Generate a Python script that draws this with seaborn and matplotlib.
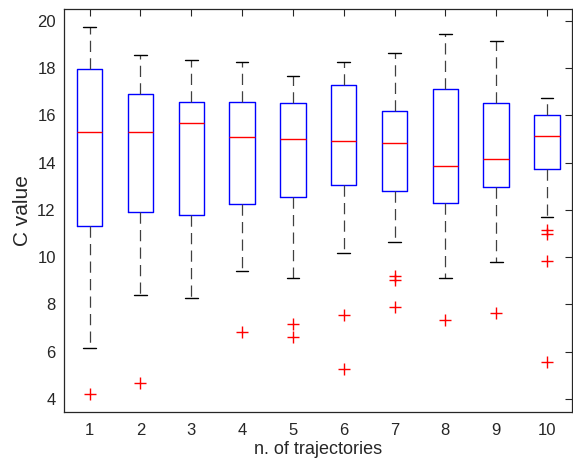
import numpy as np
import pandas as pd
import matplotlib
matplotlib.use("Agg")
import matplotlib.pyplot as plt
import seaborn as sns

# five-number summaries (lower whisker, Q1, median, Q3, upper whisker)
n_traj = [1, 2, 3, 4, 5, 6, 7, 8, 9, 10]
low_whisker = [6.16, 8.39, 8.29, 9.42, 9.10, 10.16, 10.65, 9.10, 9.79, 11.68]
q1 = [11.33, 11.89, 11.78, 12.25, 12.53, 13.03, 12.80, 12.28, 12.96, 13.73]
median = [15.27, 15.31, 15.69, 15.10, 15.00, 14.89, 14.83, 13.84, 14.13, 15.11]
q3 = [17.94, 16.91, 16.56, 16.57, 16.53, 17.26, 16.19, 17.09, 16.53, 16.02]
high_whisker = [19.72, 18.56, 18.32, 18.27, 17.66, 18.25, 18.62, 19.44, 19.13, 16.72]

# outliers (group, value)
out_group = [1, 2, 4, 5, 5, 6, 6, 7, 7, 7, 8, 9, 10, 10, 10, 10]
out_value = [4.22, 4.68, 6.83, 7.15, 6.63, 7.53, 5.26, 9.18, 9.04, 7.87,
             7.33, 7.63, 11.14, 10.99, 9.82, 5.57]

rows = []
for i, g in enumerate(n_traj):
    for v in (low_whisker[i], q1[i], median[i], q3[i], high_whisker[i]):
        rows.append({"n": g, "C": v})
df = pd.DataFrame(rows)
df_out = pd.DataFrame({"n": out_group, "C": out_value})

sns.set_style("white")
plt.rcParams['font.family'] = ['Liberation Sans', 'DejaVu Sans']

fig = plt.figure(figsize=(5.73, 4.66), dpi=100)
ax = fig.add_axes([0.112, 0.116, 0.887, 0.865])

sns.boxplot(data=df, x="n", y="C", native_scale=True, width=0.5, whis=(0, 100),
            fill=False, showfliers=False, ax=ax,
            boxprops=dict(color="blue", linewidth=1),
            medianprops=dict(color="red", linewidth=1),
            whiskerprops=dict(color="#404040", linewidth=0.9, linestyle=(0, (9, 5))),
            capprops=dict(color="black", linewidth=1))

sns.scatterplot(data=df_out, x="n", y="C", marker="+", color="red", s=70,
                linewidth=1, ax=ax, zorder=5)

ax.set_xlim(0.5, 10.5)
ax.set_ylim(3.45, 20.5)
ax.set_xticks(n_traj)
ax.set_xticklabels([str(v) for v in n_traj])
ax.set_yticks(np.arange(4, 21, 2))
ax.tick_params(direction="in", length=5, top=True, right=True, labelsize=12,
               colors="#262626", width=0.8)
ax.tick_params(axis="x", pad=8)
ax.tick_params(axis="y", pad=6)
for s in ax.spines.values():
    s.set_color("#262626")
    s.set_linewidth(0.9)
ax.set_xlabel("n. of trajectories", fontsize=13, color="#262626", labelpad=2)
ax.set_ylabel("C value", fontsize=15, color="#262626", labelpad=4)

fig.savefig("out.png", dpi=100)
